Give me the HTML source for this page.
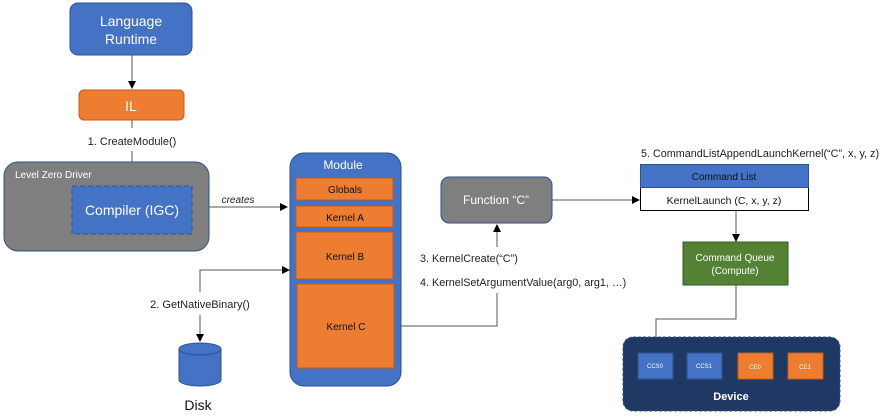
<!DOCTYPE html>
<html><head><meta charset="utf-8"><style>
html,body{margin:0;padding:0;background:#fff;width:888px;height:418px;overflow:hidden}
text{font-family:"Liberation Sans",sans-serif}
</style></head><body>
<svg width="888" height="418" viewBox="0 0 888 418" xmlns="http://www.w3.org/2000/svg">
<defs><marker id="a" markerWidth="8" markerHeight="8" refX="7" refY="4" orient="auto" markerUnits="userSpaceOnUse"><path d="M0,0 L8,4 L0,8z" fill="#000"/></marker></defs>
<g stroke="#555" stroke-width="1" fill="none">
<line x1="132" y1="55" x2="132" y2="88" marker-end="url(#a)"/>
<line x1="132" y1="120" x2="132" y2="128"/>
<line x1="132" y1="151" x2="132" y2="185" marker-end="url(#a)"/>
<line x1="209" y1="207" x2="287" y2="207" marker-end="url(#a)"/>
<polyline points="200,292 200,270 289,270" marker-end="url(#a)"/>
<line x1="200" y1="315" x2="200" y2="341" marker-end="url(#a)"/>
<polyline points="401,326 497,326 497,293"/>
<line x1="497" y1="247" x2="497" y2="225" marker-end="url(#a)"/>
<line x1="552" y1="200" x2="639" y2="200" marker-end="url(#a)"/>
<line x1="736" y1="211" x2="736" y2="241" marker-end="url(#a)"/>
<polyline points="736,285 736,319 656,319 656,352" marker-end="url(#a)"/>
</g>
<rect x="70" y="3" width="122" height="52" rx="8" fill="#4472c4" stroke="#2f528f"/>
<text x="131" y="26" font-size="14" fill="#fff" text-anchor="middle">Language</text>
<text x="131" y="44" font-size="14" fill="#fff" text-anchor="middle">Runtime</text>
<rect x="79" y="90" width="105" height="30" rx="5" fill="#ed7d31" stroke="#c55a11"/>
<text x="131" y="111" font-size="14" fill="#fff" text-anchor="middle">IL</text>
<text x="132" y="145" font-size="11" fill="#222" text-anchor="middle">1. CreateModule()</text>
<rect x="4" y="162" width="205" height="89" rx="14" fill="#7f7f7f" stroke="#2f528f"/>
<text x="15" y="178" font-size="10" fill="#fff">Level Zero Driver</text>
<rect x="72" y="186" width="120" height="48" fill="#4472c4" stroke="#2f528f" stroke-dasharray="5,3"/>
<text x="132" y="215" font-size="14" fill="#fff" text-anchor="middle">Compiler (IGC)</text>
<text x="238" y="203" font-size="10" font-style="italic" fill="#222" text-anchor="middle">creates</text>
<rect x="290" y="153" width="111" height="233" rx="14" fill="#4472c4" stroke="#2f528f"/>
<text x="343" y="169" font-size="12" fill="#fff" text-anchor="middle">Module</text>
<g fill="#ed7d31" stroke="#c55a11">
<rect x="296" y="178" width="97" height="22"/><rect x="296" y="206" width="97" height="21"/>
<rect x="296" y="232" width="97" height="47"/><rect x="297" y="284" width="97" height="84"/></g>
<g font-size="10" fill="#111" text-anchor="middle">
<text x="345" y="193">Globals</text><text x="345" y="221">Kernel A</text>
<text x="345" y="260">Kernel B</text><text x="346" y="330">Kernel C</text></g>
<text x="200" y="308" font-size="11" fill="#222" text-anchor="middle">2. GetNativeBinary()</text>
<path d="M179,349 L179,380 A21,6 0 0 0 221,380 L221,349" fill="#4472c4" stroke="#2f528f"/>
<ellipse cx="200" cy="349" rx="21" ry="6" fill="#4472c4" stroke="#2f528f"/>
<text x="198" y="410" font-size="14" fill="#111" text-anchor="middle">Disk</text>
<rect x="441" y="177" width="111" height="46" rx="8" fill="#7f7f7f" stroke="#2f528f"/>
<text x="496" y="204" font-size="12" fill="#fff" text-anchor="middle">Function “C”</text>
<text x="420" y="262" font-size="10.8" fill="#222">3. KernelCreate(“C”)</text>
<text x="420" y="286" font-size="10.8" fill="#222">4. KernelSetArgumentValue(arg0, arg1, …)</text>
<text x="641" y="157" font-size="10.8" fill="#222">5. CommandListAppendLaunchKernel(“C”, x, y, z)</text>
<rect x="640.5" y="164.5" width="168" height="46" fill="#fff" stroke="#000"/>
<rect x="640.5" y="164.5" width="168" height="23" fill="#4472c4" stroke="#2f528f"/>
<text x="724" y="180" font-size="10" fill="#111" text-anchor="middle">Command List</text>
<text x="724" y="204" font-size="10.5" fill="#111" text-anchor="middle">KernelLaunch (C, x, y, z)</text>
<rect x="683" y="242" width="105" height="43" fill="#548235" stroke="#385723"/>
<text x="735" y="261" font-size="10" fill="#fff" text-anchor="middle">Command Queue</text>
<text x="735" y="274" font-size="10" fill="#fff" text-anchor="middle">(Compute)</text>
<rect x="623" y="337" width="217" height="74" rx="10" fill="#203864" stroke="#2f528f" stroke-dasharray="3,2"/>
<rect x="638" y="353" width="35" height="26" fill="#4472c4" stroke="#2f528f"/>
<rect x="687" y="353" width="35" height="26" fill="#4472c4" stroke="#2f528f"/>
<rect x="738" y="353" width="35" height="26" fill="#ed7d31" stroke="#c55a11"/>
<rect x="788" y="353" width="35" height="26" fill="#ed7d31" stroke="#c55a11"/>
<g font-size="6" fill="#fff" text-anchor="middle">
<text x="655" y="368">CCS0</text><text x="704" y="368">CCS1</text><text x="755" y="369">CE0</text><text x="805" y="369">CE1</text></g>
<text x="731" y="400" font-size="11" font-weight="bold" fill="#fff" text-anchor="middle">Device</text>
</svg>
</body></html>
